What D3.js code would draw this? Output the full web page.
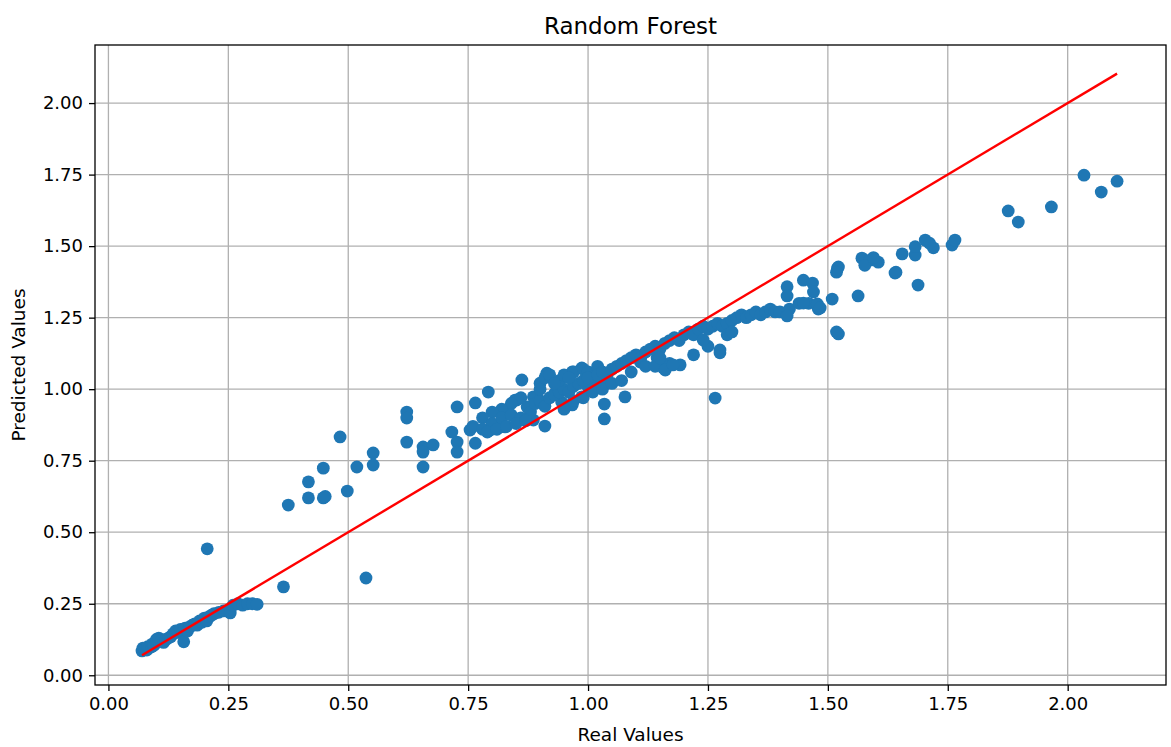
<!DOCTYPE html>
<html>
<head>
<meta charset="utf-8">
<script src="https://cdn.jsdelivr.net/npm/d3@7"></script>
<style>
  body { margin: 0; background: #fff; }
  svg text { font-family: "DejaVu Sans", sans-serif; fill: #000; }
</style>
</head>
<body>
<svg id="chart"></svg>
<script>
// [real, predicted] pairs, grouped by region
const lowBand = [
  [0.07,0.085],[0.072,0.095],[0.075,0.09],[0.08,0.088],[0.082,0.10],[0.085,0.095],[0.09,0.10],[0.092,0.11],
  [0.095,0.105],[0.10,0.115],[0.10,0.125],[0.105,0.13],[0.11,0.12],[0.115,0.115],[0.12,0.125],[0.125,0.13],
  [0.13,0.135],[0.135,0.145],[0.14,0.155],[0.145,0.15],[0.15,0.16],[0.155,0.15],[0.157,0.117],[0.16,0.165],
  [0.165,0.155],[0.17,0.17],[0.175,0.175],[0.18,0.18],[0.185,0.175],[0.19,0.19],[0.195,0.185],[0.20,0.20],
  [0.205,0.19],[0.21,0.205],[0.215,0.21],[0.22,0.215],[0.23,0.22],[0.24,0.225],[0.254,0.218],[0.26,0.245],
  [0.27,0.25],[0.28,0.245],[0.29,0.25],[0.30,0.25],[0.31,0.248],
  [0.206,0.442],[0.365,0.309],[0.537,0.340]
];
const riseCluster = [
  [0.375,0.595],[0.417,0.676],[0.417,0.620],[0.448,0.724],[0.448,0.620],[0.452,0.625],[0.483,0.833],[0.498,0.644],
  [0.518,0.728],[0.552,0.777],[0.552,0.735],[0.622,0.920],[0.622,0.899],[0.622,0.815],[0.656,0.798],[0.677,0.805],
  [0.656,0.780],[0.656,0.728],[0.716,0.850],[0.727,0.815],[0.727,0.780],[0.727,0.938],[0.754,0.857],[0.765,0.811],
  [0.765,0.952],[0.792,0.990],[0.796,0.857],[0.817,0.868],[0.831,0.927],[0.848,0.962]
];
const midCluster = [
  [0.862,1.032],[0.851,0.962],[0.827,0.927],[0.827,0.868],[0.910,0.871],[1.034,0.948],[1.034,0.896],[1.077,0.973],
  [0.914,1.056],[0.900,1.021],[0.967,1.060],[0.987,1.074],[0.931,0.986],[0.945,0.955],[0.967,0.945],[0.886,0.973],
  [0.873,0.938],[0.886,0.892],[0.987,0.973],[1.0,1.008],[1.019,1.022],[1.04,1.022],[1.109,1.095],[1.157,1.074],
  [1.192,1.085],[1.144,1.109],
  [0.88,0.92],[0.89,0.95],[0.90,0.96],[0.91,0.94],[0.92,0.97],[0.93,0.98],[0.94,0.99],[0.95,1.00],[0.96,0.99],
  [0.97,1.01],[0.98,1.02],[0.99,1.03],[1.01,1.03],[1.04,1.05],[0.90,1.0],[0.91,1.04],[0.92,1.05],[0.94,1.03],
  [0.95,1.05],[0.97,1.06],[0.99,1.07],[1.0,1.06],[1.02,1.08],[0.93,1.02],[0.96,1.04],[0.86,0.97],[0.84,0.95],
  [0.82,0.93],[0.80,0.92],[0.78,0.90],[0.76,0.87],[0.78,0.86],[0.80,0.88],[0.82,0.90],[0.84,0.91],[0.86,0.90],
  [0.95,0.93],[0.97,0.96],[0.99,0.97],[1.01,0.99],[1.03,1.0],[1.05,1.02],[1.07,1.03],[1.09,1.06],
  [0.79,0.85],[0.81,0.86],[0.83,0.87],[0.85,0.88],[0.87,0.89]
];
const upperBand = [
  [1.00,1.04],[1.02,1.05],[1.03,1.06],[1.05,1.07],[1.06,1.08],[1.07,1.09],[1.08,1.10],[1.09,1.11],[1.10,1.12],
  [1.11,1.11],[1.12,1.13],[1.13,1.14],[1.14,1.15],[1.15,1.14],[1.16,1.16],[1.17,1.17],[1.18,1.18],[1.19,1.17],
  [1.20,1.19],[1.21,1.20],[1.22,1.19],[1.23,1.21],[1.24,1.22],[1.25,1.21],[1.26,1.22],[1.27,1.23],[1.28,1.22],
  [1.29,1.23],[1.30,1.24],[1.31,1.25],[1.32,1.26],[1.33,1.25],[1.34,1.26],[1.35,1.27],[1.36,1.26],[1.37,1.27],
  [1.38,1.28],[1.39,1.27],
  [1.12,1.08],[1.14,1.08],[1.17,1.09],[1.161,1.067],[1.177,1.085],[1.150,1.109],[1.22,1.12],[1.25,1.15],
  [1.275,1.137],[1.275,1.127],[1.265,0.969],[1.24,1.172],[1.29,1.19],[1.30,1.20]
];
const highCluster = [
  [1.40,1.27],[1.42,1.28],[1.44,1.30],[1.46,1.30],[1.48,1.28],
  [1.415,1.358],[1.415,1.326],[1.415,1.256],[1.449,1.381],[1.468,1.371],[1.470,1.340],[1.449,1.301],[1.478,1.298],
  [1.484,1.284],[1.509,1.315],[1.522,1.193],[1.518,1.200],[1.563,1.326],[1.640,1.406],[1.688,1.364],[1.520,1.423],
  [1.522,1.427],[1.518,1.409],[1.571,1.458],[1.588,1.451],[1.605,1.444],[1.577,1.433],[1.595,1.46],[1.642,1.409],
  [1.655,1.473],[1.682,1.469],[1.682,1.498],[1.703,1.521],[1.720,1.494],[1.712,1.51],[1.759,1.504],[1.765,1.521],
  [1.876,1.623],[1.897,1.584],[1.966,1.637],[2.034,1.748],[2.070,1.689],[2.103,1.727]
];
const tickValues = [0, 0.25, 0.5, 0.75, 1.0, 1.25, 1.5, 1.75, 2.0];

const points = [].concat(lowBand, riseCluster, midCluster, upperBand, highCluster);
const realExtent = d3.extent(points, d => d[0]);

const W = 1171, H = 747;
const margin = {left: 95, top: 45, right: 5, bottom: 62};
const iw = W - margin.left - margin.right;
const ih = H - margin.top - margin.bottom;

const svg = d3.select("#chart").attr("width", W).attr("height", H);
const g = svg.append("g").attr("transform", `translate(${margin.left},${margin.top})`);

const x = d3.scaleLinear().domain([-0.028, 2.205]).range([0, iw]);
const y = d3.scaleLinear().domain([-0.034, 2.203]).range([ih, 0]);

// grid
g.append("g").selectAll("line").data(tickValues).join("line")
  .attr("x1", d => x(d)).attr("x2", d => x(d)).attr("y1", 0).attr("y2", ih)
  .attr("stroke", "#b0b0b0").attr("stroke-width", 1.3);
g.append("g").selectAll("line").data(tickValues).join("line")
  .attr("y1", d => y(d)).attr("y2", d => y(d)).attr("x1", 0).attr("x2", iw)
  .attr("stroke", "#b0b0b0").attr("stroke-width", 1.3);

// points
g.append("g").selectAll("circle").data(points).join("circle")
  .attr("cx", d => x(d[0])).attr("cy", d => y(d[1]))
  .attr("r", 6.4).attr("fill", "#1f77b4");

// ideal line
g.append("line")
  .attr("x1", x(realExtent[0])).attr("y1", y(realExtent[0]))
  .attr("x2", x(realExtent[1])).attr("y2", y(realExtent[1]))
  .attr("stroke", "#ff0000").attr("stroke-width", 2.4);

// axes
const xAxis = g.append("g").attr("transform", `translate(0,${ih})`)
  .call(d3.axisBottom(x).tickValues(tickValues).tickFormat(d3.format(".2f")).tickSize(6).tickPadding(6));
const yAxis = g.append("g")
  .call(d3.axisLeft(y).tickValues(tickValues).tickFormat(d3.format(".2f")).tickSize(6).tickPadding(6));
[xAxis, yAxis].forEach(a => {
  a.select(".domain").remove();
  a.selectAll("line").attr("stroke", "#000").attr("stroke-width", 1.3);
  a.selectAll("text").attr("font-size", 18).attr("font-family", "DejaVu Sans").attr("fill", "#222");
});

// frame
g.append("rect").attr("width", iw).attr("height", ih)
  .attr("fill", "none").attr("stroke", "#000").attr("stroke-width", 1.3);

// labels
svg.append("text").attr("x", margin.left + iw / 2).attr("y", 34)
  .attr("text-anchor", "middle").attr("font-size", 23).attr("fill", "#111").text("Random Forest");
svg.append("text").attr("x", margin.left + iw / 2).attr("y", 741)
  .attr("text-anchor", "middle").attr("font-size", 18.5).attr("fill", "#222").text("Real Values");
svg.append("text").attr("transform", `translate(25,${margin.top + ih / 2}) rotate(-90)`)
  .attr("text-anchor", "middle").attr("font-size", 18.5).attr("fill", "#222").text("Predicted Values");
</script>
</body>
</html>
